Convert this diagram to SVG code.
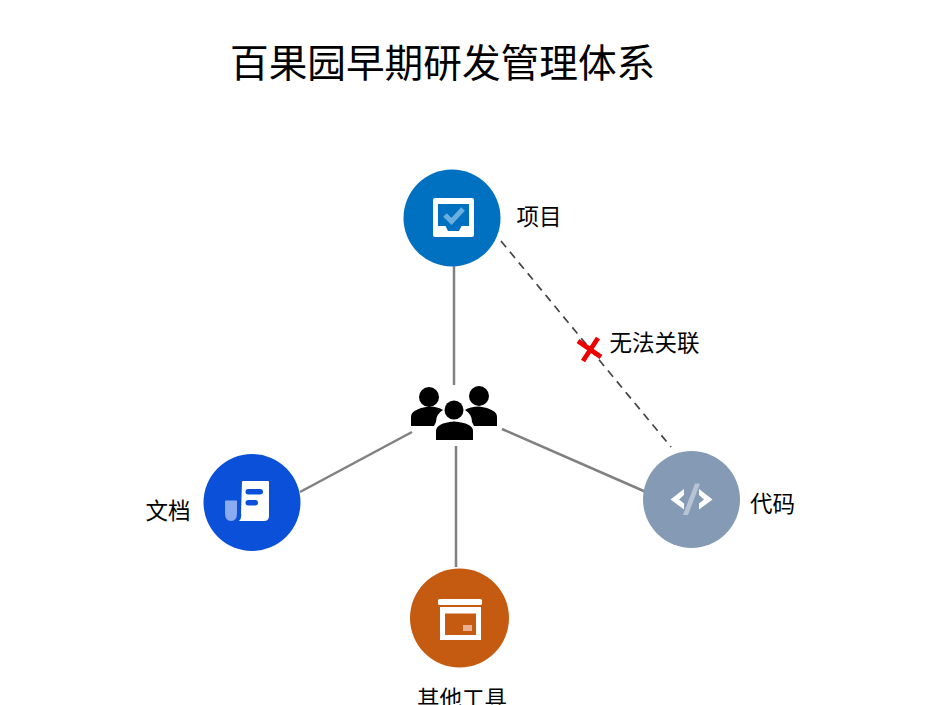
<svg xmlns="http://www.w3.org/2000/svg" width="936" height="705" viewBox="0 0 936 705">
<style>
text{font-family:"Noto Sans CJK SC","Liberation Sans",sans-serif;fill:#000}
.lbl{font-size:22.500px}
.c{stroke:#808080;stroke-width:2.500;fill:none}
.d{stroke:#444;stroke-width:1.700;stroke-dasharray:8 6;fill:none}
</style>
<rect width="936" height="705" fill="#fff"/>
<text x="230" y="77" font-size="38.670" id="title">百果园早期研发管理体系</text>
<g id="connectors">
<line class="c" x1="454" y1="266" x2="454" y2="385"/>
<line class="c" x1="412" y1="432" x2="300" y2="492"/>
<line class="c" x1="502" y1="429" x2="646" y2="492"/>
<line class="c" x1="456" y1="446" x2="456" y2="567"/>
<line class="d" x1="501" y1="241" x2="671" y2="447"/>
</g>
<g id="cross"><path d="M578 341L601 357M598 338L583 361" stroke="#ee0000" stroke-width="4.800" fill="none"/></g>
<text class="lbl" x="609.500" y="351" id="edge-label">无法关联</text>
<g id="node-project">
<circle cx="452" cy="218" r="48.500" fill="#0070c0"/>
<rect x="433" y="198" width="41" height="39" rx="2" fill="#fff"/>
<path d="M438 204H469V226H461.500L459 231H448L445.500 226H438Z" fill="#0070c0"/>
<path d="M445 215L451.500 221.500L463 209" stroke="#6baee0" stroke-width="5" fill="none"/>
<text class="lbl" x="516.500" y="225">项目</text>
</g>
<g id="node-people" fill="#000">
<circle cx="429" cy="397" r="10"/>
<path d="M411 426V417Q411 409 429 406.500Q438 406.500 443 410Q436 414 436 422L434 426Z"/>
<circle cx="479" cy="396" r="10"/>
<path d="M497 426V417Q497 409 479 406.500Q470 406.500 465 410Q472 414 472 422L474 426Z"/>
<circle cx="454" cy="410" r="9.500"/>
<path d="M436 440V431Q436 423 454 421.500Q473 423 473 431V440Z"/>
</g>
<g id="node-docs">
<circle cx="252" cy="502.500" r="48.500" fill="#0a50d8"/>
<path d="M225 501Q225 500.500 226 500.500H237V513Q237 521 231 521Q225 521 225 513Z" fill="#8aabf0"/>
<path d="M242 482Q242 481 243 481H268Q269 481 269 482V516Q269 521 264 521H239Q242 518 241 513Z" fill="#fff"/>
<rect x="245.500" y="489" width="17.500" height="5.500" rx="2.700" fill="#0a50d8"/>
<rect x="245.500" y="500" width="12.500" height="5.500" rx="2.700" fill="#0a50d8"/>
<text class="lbl" x="145.500" y="519">文档</text>
</g>
<g id="node-code">
<circle cx="691.500" cy="499.500" r="48.500" fill="#859ab5"/>
<path d="M684 489L670.500 499.500L684 509.500V503.500L679 499.500L684 495Z" fill="#fff"/>
<path d="M699 489L712.500 499.500L699 509.500V503.500L704 499.500L699 495Z" fill="#fff"/>
<path d="M695 483.500L700 483.500L688 515L683 515Z" fill="#b8c4d4"/>
<text class="lbl" x="750" y="511.500">代码</text>
</g>
<g id="node-tools">
<circle cx="459.500" cy="618" r="49.500" fill="#c55a11"/>
<rect x="438" y="599" width="44" height="6" rx="1.500" fill="#fff"/>
<path d="M440 607H481V640H440Z M445 613.500V635H476V613.500Z" fill="#fff" fill-rule="evenodd"/>
<rect x="463" y="625" width="9" height="6" fill="#e8b090"/>
<text class="lbl" x="417" y="707">其他工具</text>
</g>
</svg>
